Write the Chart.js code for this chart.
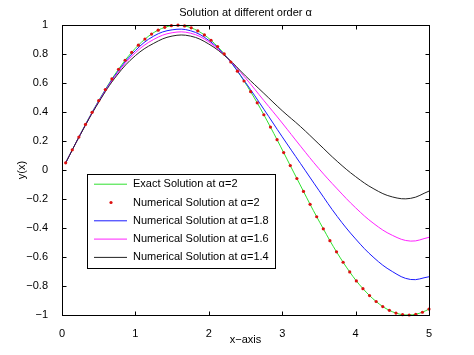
<!DOCTYPE html>
<html lang="en">
<head>
  <meta charset="UTF-8">
  <title>Solution at different order</title>
  <script src="https://cdn.jsdelivr.net/npm/chart.js"></script>
  <style>
    body { margin: 0; background: #fff; }
    #wrap { width: 474px; height: 355px; }
  </style>
</head>
<body>
  <div id="wrap"><canvas id="solChart" width="474" height="355"></canvas></div>

  <script>
    // exact solution (alpha = 2) and numerical points, same grid
    const xExact = [0.05, 0.14, 0.23, 0.32, 0.41, 0.50, 0.59, 0.68, 0.77, 0.86,
      0.95, 1.04, 1.13, 1.22, 1.31, 1.40, 1.49, 1.58, 1.67, 1.76,
      1.85, 1.94, 2.03, 2.12, 2.21, 2.30, 2.39, 2.48, 2.57, 2.66,
      2.75, 2.84, 2.93, 3.02, 3.11, 3.20, 3.29, 3.38, 3.47, 3.56,
      3.65, 3.74, 3.83, 3.92, 4.01, 4.10, 4.19, 4.28, 4.37, 4.46,
      4.55, 4.64, 4.73, 4.82, 4.91, 5.00];
    const yExact = [0.050, 0.140, 0.228, 0.315, 0.399, 0.479, 0.556, 0.629, 0.696, 0.758,
      0.813, 0.862, 0.904, 0.939, 0.966, 0.985, 0.997, 1.000, 0.995, 0.982,
      0.961, 0.933, 0.896, 0.853, 0.802, 0.746, 0.683, 0.615, 0.541, 0.464,
      0.382, 0.297, 0.210, 0.121, 0.031, -0.058, -0.147, -0.236, -0.322, -0.405,
      -0.487, -0.564, -0.636, -0.703, -0.765, -0.818, -0.866, -0.907, -0.942, -0.968,
      -0.987, -0.998, -1.000, -0.995, -0.981, -0.959];
    const yNum2 = yExact.slice();   // dots sit on the exact curve

    // fractional orders
    const xFrac = [0.05, 0.25, 0.5, 0.75, 1.0, 1.25, 1.5, 1.75, 2.0, 2.25, 2.5,
      2.75, 3.0, 3.25, 3.5, 3.75, 4.0, 4.25, 4.5, 4.75, 5.0];
    const yAlpha18 = [0.05, 0.247, 0.476, 0.673, 0.825, 0.925, 0.968, 0.962, 0.895, 0.775, 0.605,
      0.42, 0.23, 0.045, -0.14, -0.32, -0.475, -0.605, -0.70, -0.755, -0.736];
    const yAlpha16 = [0.05, 0.246, 0.472, 0.665, 0.81, 0.902, 0.948, 0.945, 0.885, 0.775, 0.635,
      0.48, 0.325, 0.165, 0.01, -0.13, -0.26, -0.37, -0.45, -0.49, -0.464];
    const yAlpha14 = [0.05, 0.245, 0.468, 0.655, 0.79, 0.875, 0.925, 0.925, 0.87, 0.775, 0.65,
      0.53, 0.41, 0.30, 0.18, 0.06, -0.045, -0.13, -0.185, -0.195, -0.145];

    const xTicks = [0, 1, 2, 3, 4, 5];

    const FONT = "'Liberation Sans', Arial, Helvetica, sans-serif";

    function pts(xs, ys) {
      return xs.map((x, i) => ({ x: x, y: ys[i] }));
    }

    function fmt(v) {
      const s = String(Math.round(v * 10) / 10);
      return s.replace('-', '\u2212');
    }

    // MATLAB style box with inward ticks
    const boxPlugin = {
      id: 'box',
      afterDatasetsDraw(chart) {
        const { ctx, chartArea: a, scales } = chart;
        const x = scales.x, y = scales.y;
        const L = Math.round(a.left) + 0.5, R = Math.round(a.right) + 0.5;
        const T = Math.round(a.top) + 0.5, B = Math.round(a.bottom) + 0.5;
        ctx.save();
        ctx.strokeStyle = '#000';
        ctx.lineWidth = 1;
        ctx.beginPath();
        x.ticks.forEach(t => {
          const px = Math.round(x.getPixelForValue(t.value)) + 0.5;
          ctx.moveTo(px, B); ctx.lineTo(px, B - 4);
          ctx.moveTo(px, T); ctx.lineTo(px, T + 4);
        });
        y.ticks.forEach(t => {
          const py = Math.round(y.getPixelForValue(t.value)) + 0.5;
          ctx.moveTo(L, py); ctx.lineTo(L + 4, py);
          ctx.moveTo(R, py); ctx.lineTo(R - 4, py);
        });
        ctx.stroke();
        ctx.strokeRect(L, T, R - L, B - T);
        ctx.restore();
      }
    };

    // legend box inside the axes
    const legendPlugin = {
      id: 'boxLegend',
      afterDraw(chart) {
        const { ctx, chartArea: a } = chart;
        const sets = chart.data.datasets;
        const left = a.left + 25, top = a.top + 149;
        const rowH = 18.3;
        ctx.save();
        ctx.font = '11px ' + FONT;
        let maxW = 0;
        sets.forEach(d => { maxW = Math.max(maxW, ctx.measureText(d.label).width); });
        const w = 46 + maxW + 6, h = rowH * sets.length + 2;
        ctx.fillStyle = '#fff';
        ctx.fillRect(left, top, w, h);
        ctx.strokeStyle = '#000';
        ctx.lineWidth = 1;
        ctx.strokeRect(Math.round(left) + 0.5, Math.round(top) + 0.5, Math.round(w), Math.round(h));
        sets.forEach((d, i) => {
          const cy = top + 10 + i * rowH;
          if (d.showLine === false) {
            ctx.fillStyle = d.pointBackgroundColor;
            ctx.beginPath();
            ctx.arc(left + 24, cy, 1.6, 0, Math.PI * 2);
            ctx.fill();
          } else {
            ctx.strokeStyle = d.borderColor;
            ctx.lineWidth = 1;
            ctx.beginPath();
            ctx.moveTo(left + 7, cy);
            ctx.lineTo(left + 40, cy);
            ctx.stroke();
          }
          ctx.fillStyle = '#000';
          ctx.textBaseline = 'middle';
          ctx.fillText(d.label, left + 46, cy);
        });
        ctx.restore();
      }
    };

    new Chart(document.getElementById('solChart'), {
      type: 'line',
      data: {
        datasets: [
          {
            label: 'Exact Solution at \u03b1=2',
            data: pts(xExact, yExact),
            borderColor: '#2fe02f',
            borderWidth: 1,
            pointRadius: 0,
            tension: 0.3,
            order: 4
          },
          {
            label: 'Numerical Solution at \u03b1=2',
            data: pts(xExact, yNum2),
            showLine: false,
            pointRadius: 1.6,
            pointBorderWidth: 0,
            pointBackgroundColor: '#dd1111',
            pointBorderColor: '#dd1111',
            clip: 4,
            order: 0
          },
          {
            label: 'Numerical Solution at \u03b1=1.8',
            data: pts(xFrac, yAlpha18),
            borderColor: '#1a1aff',
            borderWidth: 1,
            pointRadius: 0,
            tension: 0.4,
            order: 3
          },
          {
            label: 'Numerical Solution at \u03b1=1.6',
            data: pts(xFrac, yAlpha16),
            borderColor: '#ff22ff',
            borderWidth: 1,
            pointRadius: 0,
            tension: 0.4,
            order: 2
          },
          {
            label: 'Numerical Solution at \u03b1=1.4',
            data: pts(xFrac, yAlpha14),
            borderColor: '#222222',
            borderWidth: 1,
            pointRadius: 0,
            tension: 0.4,
            order: 1
          }
        ]
      },
      options: {
        responsive: false,
        animation: false,
        layout: { padding: { left: 0, right: 45, top: 0, bottom: 0 } },
        plugins: {
          legend: { display: false },
          tooltip: { enabled: false },
          title: {
            display: true,
            text: 'Solution at different order \u03b1',
            color: '#000',
            fullSize: false,
            font: { family: FONT, size: 11, weight: 'normal' },
            padding: { top: 6, bottom: 6 }
          }
        },
        scales: {
          x: {
            type: 'linear',
            min: 0,
            max: 5,
            afterBuildTicks: s => { s.ticks = xTicks.map(v => ({ value: v })); },
            afterFit: s => { s.height = 40; },
            grid: { display: false },
            border: { display: false },
            ticks: {
              color: '#000',
              padding: 4,
              maxRotation: 0,
              autoSkip: false,
              font: { family: FONT, size: 11 },
              callback: v => fmt(v)
            },
            title: {
              display: true,
              text: 'x\u2212axis',
              color: '#000',
              font: { family: FONT, size: 11 },
              padding: { top: 0, bottom: 8 }
            }
          },
          y: {
            min: -1,
            max: 1,
            afterFit: s => { s.width = 62; },
            grid: { display: false },
            border: { display: false },
            ticks: {
              stepSize: 0.2,
              color: '#000',
              padding: 6,
              font: { family: FONT, size: 11 },
              callback: v => fmt(v)
            },
            title: {
              display: true,
              text: 'y(x)',
              color: '#000',
              font: { family: FONT, size: 11 },
              padding: { top: 15, bottom: 0 }
            }
          }
        }
      },
      plugins: [boxPlugin, legendPlugin]
    });
  </script>
</body>
</html>
